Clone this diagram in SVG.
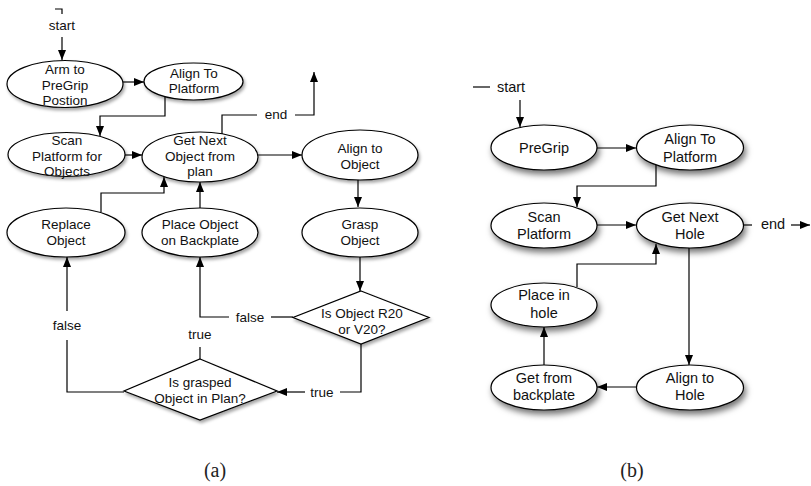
<svg xmlns="http://www.w3.org/2000/svg" width="811" height="486" viewBox="0 0 811 486">
<style>
  .bg { fill: #ffffff; }
  .node ellipse, .node polygon { fill: #ffffff; stroke: #000000; stroke-width: 1.2; }
  .a ellipse, .a polygon { filter: url(#shA); }
  .b ellipse { filter: url(#shB); }
  text { font-family: "Liberation Sans", Arial, Helvetica, sans-serif; fill: #111111; text-anchor: middle; }
  .a text, text.la { font-size: 13.5px; }
  .b text, text.lb { font-size: 14.5px; }
  .cap { font-family: "Liberation Serif", "Times New Roman", serif; font-size: 20px; fill: #222222; }
  #connectors path { fill: none; stroke: #000000; stroke-width: 1.2; }
  #connectors path.arr { marker-end: url(#arrow); }
</style>
<defs>
  <marker id="arrow" markerUnits="userSpaceOnUse" markerWidth="10" markerHeight="8" refX="10" refY="4" orient="auto">
    <path d="M0,0 L10,4 L0,8 Z" fill="#000000"/>
  </marker>
  <filter id="shA" x="-20%" y="-20%" width="150%" height="170%">
    <feDropShadow dx="1.5" dy="2.5" stdDeviation="1.8" flood-color="#000000" flood-opacity="0.35"/>
  </filter>
  <filter id="shB" x="-20%" y="-20%" width="150%" height="170%">
    <feDropShadow dx="2" dy="4" stdDeviation="3" flood-color="#000000" flood-opacity="0.55"/>
  </filter>
</defs>
<rect class="bg" x="0" y="0" width="811" height="486"/>

<g id="connectors">
  <!-- (a) -->
  <path d="M55,9 H62 V14"/>
  <path class="arr" d="M62,37 V60"/>
  <path class="arr" d="M123,82 H144"/>
  <path class="arr" d="M165,96 V116 H100 V136"/>
  <path class="arr" d="M125,155 H142"/>
  <path d="M222,134 V115 H257"/>
  <path class="arr" d="M295,115 H314 V72"/>
  <path class="arr" d="M258,155 H302"/>
  <path class="arr" d="M358,180 V207"/>
  <path class="arr" d="M360,257 V291"/>
  <path d="M293,317 H271"/>
  <path class="arr" d="M229,317 H200 V257"/>
  <path d="M200,359 V347"/>
  <path d="M361,344 V392 H340"/>
  <path class="arr" d="M305,392 H277"/>
  <path d="M124,392 H67 V340"/>
  <path class="arr" d="M67,311 V257"/>
  <path class="arr" d="M101,212 V193 H164 V177"/>
  <path class="arr" d="M200,208 V182"/>
  <!-- (b) -->
  <path d="M473,87 H490"/>
  <path class="arr" d="M520,100 V127"/>
  <path class="arr" d="M597,148 H636"/>
  <path class="arr" d="M656,165 V186 H577 V207"/>
  <path class="arr" d="M597,225 H636"/>
  <path d="M743,225 H752"/>
  <path class="arr" d="M791,225 H810"/>
  <path class="arr" d="M689,248 V365"/>
  <path class="arr" d="M636,387 H597"/>
  <path class="arr" d="M544,365 V327"/>
  <path class="arr" d="M577,287 V264 H656 V244"/>
</g>

<g id="labels">
  <text class="la" x="62" y="30">start</text>
  <text class="la" x="276" y="119">end</text>
  <text class="la" x="250" y="322">false</text>
  <text class="la" x="200" y="339">true</text>
  <text class="la" x="322" y="397">true</text>
  <text class="la" x="67" y="330">false</text>
  <text class="lb" x="511" y="92">start</text>
  <text class="lb" x="773" y="229">end</text>
</g>

<!-- (a) nodes -->
<g id="a_arm" class="node a">
  <ellipse cx="65" cy="84" rx="58" ry="23.5"/>
  <text x="65" y="74">Arm to</text>
  <text x="65" y="90">PreGrip</text>
  <text x="65" y="105">Postion</text>
</g>
<g id="a_align_platform" class="node a">
  <ellipse cx="193.5" cy="81.5" rx="49.5" ry="18.5"/>
  <text x="194" y="78">Align To</text>
  <text x="194" y="93">Platform</text>
</g>
<g id="a_scan" class="node a">
  <ellipse cx="66.5" cy="154.5" rx="58.5" ry="22"/>
  <text x="67" y="145">Scan</text>
  <text x="67" y="161">Platform for</text>
  <text x="67" y="176">Objects</text>
</g>
<g id="a_getnext" class="node a">
  <ellipse cx="200" cy="157" rx="58" ry="25"/>
  <text x="200" y="145">Get Next</text>
  <text x="200" y="161">Object from</text>
  <text x="200" y="176">plan</text>
</g>
<g id="a_align_object" class="node a">
  <ellipse cx="360" cy="155" rx="58" ry="25"/>
  <text x="360" y="153">Align to</text>
  <text x="360" y="169">Object</text>
</g>
<g id="a_replace" class="node a">
  <ellipse cx="66" cy="232.5" rx="59" ry="24.5"/>
  <text x="66" y="229">Replace</text>
  <text x="66" y="245">Object</text>
</g>
<g id="a_place" class="node a">
  <ellipse cx="200" cy="232.5" rx="58" ry="24.5"/>
  <text x="200" y="229">Place Object</text>
  <text x="200" y="245">on Backplate</text>
</g>
<g id="a_grasp" class="node a">
  <ellipse cx="360" cy="232.5" rx="58" ry="24.5"/>
  <text x="360" y="229">Grasp</text>
  <text x="360" y="245">Object</text>
</g>
<g id="a_is_r20" class="node a">
  <polygon points="361,291 429,317.5 361,344 293,317.5"/>
  <text x="362" y="318">Is Object R20</text>
  <text x="362" y="334">or V20?</text>
</g>
<g id="a_in_plan" class="node a">
  <polygon points="200,359 277,391 200,420 124,391"/>
  <text x="200" y="387">Is grasped</text>
  <text x="200" y="403">Object in Plan?</text>
</g>

<!-- (b) nodes -->
<g id="b_pregrip" class="node b">
  <ellipse cx="544" cy="147.5" rx="53" ry="22.5"/>
  <text x="544" y="153">PreGrip</text>
</g>
<g id="b_align_platform" class="node b">
  <ellipse cx="690" cy="147.5" rx="53.5" ry="22.5"/>
  <text x="690" y="144">Align To</text>
  <text x="690" y="162">Platform</text>
</g>
<g id="b_scan" class="node b">
  <ellipse cx="544" cy="225.5" rx="53" ry="22.5"/>
  <text x="544" y="222">Scan</text>
  <text x="544" y="239">Platform</text>
</g>
<g id="b_getnext" class="node b">
  <ellipse cx="690" cy="225.5" rx="53.5" ry="22.5"/>
  <text x="690" y="222">Get Next</text>
  <text x="690" y="239">Hole</text>
</g>
<g id="b_place" class="node b">
  <ellipse cx="544" cy="305" rx="53" ry="22"/>
  <text x="544" y="300">Place in</text>
  <text x="544" y="318">hole</text>
</g>
<g id="b_getfrom" class="node b">
  <ellipse cx="544" cy="387.5" rx="53" ry="22.5"/>
  <text x="544" y="383">Get from</text>
  <text x="544" y="400">backplate</text>
</g>
<g id="b_align_hole" class="node b">
  <ellipse cx="690" cy="387.5" rx="53.5" ry="22.5"/>
  <text x="690" y="383">Align to</text>
  <text x="690" y="400">Hole</text>
</g>

<g id="captions">
  <text class="cap" x="215" y="477">(a)</text>
  <text class="cap" x="632" y="477">(b)</text>
</g>
</svg>
